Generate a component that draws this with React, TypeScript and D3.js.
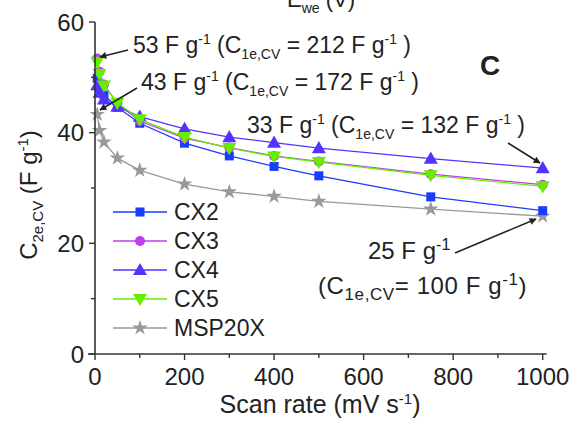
import React from "react";
import * as d3 from "d3";

const scanRates = [5, 10, 20, 50, 100, 200, 300, 400, 500, 750, 1000];
const cx2 = [49.8, 48.2, 46.8, 44.6, 41.7, 38.1, 35.8, 33.9, 32.2, 28.4, 25.9];
const cx3 = [53.4, 51.0, 48.7, 45.3, 42.1, 39.0, 37.3, 35.8, 34.8, 32.5, 30.6];
const cx4 = [48.6, 47.2, 46.0, 44.7, 42.9, 40.7, 39.2, 38.2, 37.2, 35.3, 33.6];
const cx5 = [52.8, 50.6, 48.5, 45.4, 42.4, 39.2, 37.2, 35.7, 34.7, 32.3, 30.3];
const msp20x = [43.3, 40.4, 38.3, 35.4, 33.2, 30.7, 29.3, 28.5, 27.6, 26.2, 24.9];

const seriesNames = ["CX2", "CX3", "CX4", "CX5", "MSP20X"];
const seriesValues = [cx2, cx3, cx4, cx5, msp20x];
const seriesColors = ["#1a3cff", "#c03cf0", "#5533ff", "#66ee00", "#999999"];
const seriesMarkers = ["square", "circle", "triangleUp", "triangleDown", "star"];

const xTicks = [0, 200, 400, 600, 800, 1000];
const xMinor = [100, 300, 500, 700, 900];
const yTicks = [0, 20, 40, 60];
const yMinor = [10, 30, 50];

const FONT = "Liberation Sans, Arial, Helvetica, sans-serif";
const TXT = "#222";

type Seg = [string, "n" | "sub" | "sup"];

function Rich({ segs, small = 14 }: { segs: Seg[]; small?: number }) {
  let level = 0;
  const out: React.ReactNode[] = [];
  segs.forEach(([t, kind], i) => {
    const target = kind === "sup" ? -9 : kind === "sub" ? 6 : 0;
    const dy = target - level;
    level = target;
    out.push(
      <tspan key={i} dy={dy} fontSize={kind === "n" ? undefined : small}>
        {t}
      </tspan>
    );
  });
  return <>{out}</>;
}

function Marker({ type, x, y, color }: { type: string; x: number; y: number; color: string }) {
  if (type === "square") return <rect x={x - 4.5} y={y - 4.5} width={9} height={9} fill={color} />;
  if (type === "circle") return <circle cx={x} cy={y} r={5} fill={color} />;
  if (type === "triangleUp")
    return <path d={d3.symbol(d3.symbolTriangle, 85)()!} transform={`translate(${x},${y + 1})`} fill={color} />;
  if (type === "triangleDown")
    return <path d={d3.symbol(d3.symbolTriangle, 85)()!} transform={`translate(${x},${y - 1}) rotate(180)`} fill={color} />;
  return <path d={d3.symbol(d3.symbolStar, 75)()!} transform={`translate(${x},${y})`} fill={color} />;
}

export default function App() {
  const x = d3.scaleLinear().domain([0, 1000]).range([95, 542.7]);
  const y = d3.scaleLinear().domain([0, 60]).range([354, 22]);
  const line = d3
    .line<[number, number]>()
    .x((d) => x(d[0]))
    .y((d) => y(d[1]));

  const axisColor = "#333";
  const order = [4, 0, 1, 2, 3];

  return (
    <svg width={573} height={426} style={{ position: "absolute", left: 0, top: 0, background: "#fff" }} fontFamily={FONT}>
      {/* top cut-off axis title (clipped in the reference too) */}
      <text x={287} y={7} fontSize={22} fill={TXT}>
        <Rich segs={[["E", "n"], ["we", "sub"], [" (V)", "n"]]} />
      </text>

      {/* series */}
      {order.map((i) => (
        <g key={seriesNames[i]}>
          <path
            d={line(scanRates.map((s, k) => [s, seriesValues[i][k]] as [number, number]))!}
            fill="none"
            stroke={seriesColors[i]}
            strokeWidth={1.3}
          />
          {scanRates.map((s, k) => (
            <Marker key={k} type={seriesMarkers[i]} x={x(s)} y={y(seriesValues[i][k])} color={seriesColors[i]} />
          ))}
        </g>
      ))}

      {/* axes */}
      <line x1={x(0)} x2={x(0)} y1={y(0)} y2={y(60)} stroke={axisColor} strokeWidth={1.6} />
      <line x1={88} x2={546.7} y1={y(0)} y2={y(0)} stroke={axisColor} strokeWidth={1.6} />
      {xTicks.map((t) => (
        <g key={"xt" + t}>
          <line x1={x(t)} x2={x(t)} y1={y(0)} y2={y(0) + 6} stroke={axisColor} strokeWidth={1.4} />
          <text x={x(t)} y={385} fontSize={24} textAnchor="middle" fill={TXT}>
            {t}
          </text>
        </g>
      ))}
      {xMinor.map((t) => (
        <line key={"xm" + t} x1={x(t)} x2={x(t)} y1={y(0)} y2={y(0) + 4} stroke={axisColor} strokeWidth={1.4} />
      ))}
      {yTicks.map((t) => (
        <g key={"yt" + t}>
          <line x1={x(0) - 6} x2={x(0)} y1={y(t)} y2={y(t)} stroke={axisColor} strokeWidth={1.4} />
          <text x={84} y={y(t) + 8.5} fontSize={24} textAnchor="end" fill={TXT}>
            {t}
          </text>
        </g>
      ))}
      {yMinor.map((t) => (
        <line key={"ym" + t} x1={x(0) - 4} x2={x(0)} y1={y(t)} y2={y(t)} stroke={axisColor} strokeWidth={1.4} />
      ))}

      {/* axis titles */}
      <text x={320} y={413} fontSize={25} textAnchor="middle" fill={TXT}>
        <Rich segs={[["Scan rate (mV s", "n"], ["-1", "sup"], [")", "n"]]} small={15} />
      </text>
      <text transform="translate(37,195) rotate(-90)" fontSize={24} textAnchor="middle" fill={TXT}>
        <Rich segs={[["C", "n"], ["2e,CV", "sub"], [" (F g", "n"], ["-1", "sup"], [")", "n"]]} small={15} />
      </text>

      {/* legend */}
      {seriesNames.map((n, i) => {
        const ly = 212 + i * 29;
        return (
          <g key={"lg" + n}>
            <line x1={113} x2={167} y1={ly} y2={ly} stroke={seriesColors[i]} strokeWidth={1.3} />
            <Marker type={seriesMarkers[i]} x={140} y={ly} color={seriesColors[i]} />
            <text x={174} y={ly + 8} fontSize={23} fill={TXT}>
              {n}
            </text>
          </g>
        );
      })}

      {/* panel letter */}
      <text x={480} y={75} fontSize={28} fontWeight="bold" fill={TXT}>
        C
      </text>

      {/* annotations */}
      <text x={133} y={53} fontSize={23} fill={TXT}>
        <Rich segs={[["53 F g", "n"], ["-1", "sup"], [" (C", "n"], ["1e,CV", "sub"], [" = 212 F g", "n"], ["-1", "sup"], [" )", "n"]]} />
      </text>
      <text x={141} y={90} fontSize={23} fill={TXT}>
        <Rich segs={[["43 F g", "n"], ["-1", "sup"], [" (C", "n"], ["1e,CV", "sub"], [" = 172 F g", "n"], ["-1", "sup"], [" )", "n"]]} />
      </text>
      <text x={247} y={133} fontSize={23} fill={TXT}>
        <Rich segs={[["33 F g", "n"], ["-1", "sup"], [" (C", "n"], ["1e,CV", "sub"], [" = 132 F g", "n"], ["-1", "sup"], [" )", "n"]]} />
      </text>
      <text x={368} y={259} fontSize={24} fill={TXT}>
        <Rich segs={[["25 F g", "n"], ["-1", "sup"]]} small={16} />
      </text>
      <text x={318} y={294} fontSize={24} fill={TXT} letterSpacing={0.6}>
        <Rich segs={[["(C", "n"], ["1e,CV", "sub"], ["= 100 F g", "n"], ["-1", "sup"], [")", "n"]]} small={17} />
      </text>

      {/* arrows */}
      <defs>
        <marker id="ah" viewBox="0 0 10 10" refX={9} refY={5} markerWidth={9} markerHeight={7} orient="auto" markerUnits="userSpaceOnUse">
          <path d="M0,0 L10,5 L0,10 z" fill="#222" />
        </marker>
      </defs>
      <line x1={128} y1={50} x2={100} y2={57} stroke="#222" strokeWidth={1.5} markerEnd="url(#ah)" />
      <line x1={137} y1={88} x2={100} y2={110} stroke="#222" strokeWidth={1.5} markerEnd="url(#ah)" />
      <line x1={508} y1={143} x2={540} y2={163} stroke="#222" strokeWidth={1.5} markerEnd="url(#ah)" />
      <line x1={455} y1={253} x2={536} y2={219} stroke="#222" strokeWidth={1.5} markerEnd="url(#ah)" />
    </svg>
  );
}
